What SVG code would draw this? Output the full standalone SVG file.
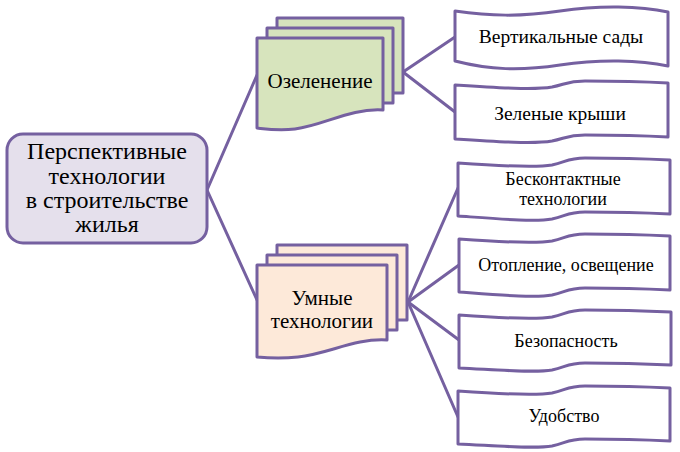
<svg xmlns="http://www.w3.org/2000/svg" width="680" height="452" viewBox="0 0 680 452">
<style>
.ln{fill:none;stroke:#7560A0;stroke-width:3;stroke-linecap:round}
.bx{stroke:#7560A0;stroke-width:3;stroke-linejoin:round}
.w{fill:#FFFFFF}
text{font-family:'Liberation Serif','Times New Roman',serif;fill:#000;text-anchor:middle}
.t24{font-size:24px}
.t21{font-size:21px}
.t19{font-size:19.5px}
.t18{font-size:18px}
</style>
<rect width="680" height="452" fill="#FFFFFF"/>
<g id="connectors">
<path class="ln" d="M207,190 L257,75"/>
<path class="ln" d="M207,190 L257,300"/>
<path class="ln" d="M403,72 L455,37"/>
<path class="ln" d="M403,72 L455,112"/>
<path class="ln" d="M408,302 L458,188"/>
<path class="ln" d="M408,302 L459,265"/>
<path class="ln" d="M408,302 L459,340"/>
<path class="ln" d="M408,302 L458,417"/>
</g>
<g id="root">
<rect class="bx" x="7" y="134" width="200" height="109" rx="16" fill="#E5E0EC"/>
<text class="t24" x="107" y="159">Перспективные</text>
<text class="t24" x="107" y="184">технологии</text>
<text class="t24" x="107" y="208">в строительстве</text>
<text class="t24" x="107" y="232">жилья</text>
</g>
<g id="ozelenenie">
<rect class="bx" x="277" y="18" width="126" height="75" fill="#D7E4BD"/>
<rect class="bx" x="267" y="28" width="126" height="75" fill="#D7E4BD"/>
<path class="bx" fill="#D7E4BD" d="M257,38 L383,38 L383,110 C350,108 325,125 295,129 C278,131 266,129 257,128 Z"/>
<text class="t21" x="320" y="88">Озеленение</text>
</g>
<g id="umnye">
<rect class="bx" x="277" y="245" width="130" height="75" fill="#FDE9D9"/>
<rect class="bx" x="267" y="255" width="130" height="75" fill="#FDE9D9"/>
<path class="bx" fill="#FDE9D9" d="M257,265 L387,265 L387,340 C355,338 328,354 298,357 C280,359 267,358 257,357 Z"/>
<text class="t21" x="322" y="305">Умные</text>
<text class="t21" x="322" y="328">технологии</text>
</g>
<g id="vert">
<path class="bx w" d="M455,11 C490,16 520,17 560,11 C600,5 640,6 668,12 L668,66 C640,60 600,59 560,65 C520,71 490,70 455,61 Z"/>
<text class="t19" x="561" y="43">Вертикальные сады</text>
</g>
<g id="kryshi">
<path class="bx w" d="M455,85 C500,88 535,90 552,87 C566,84 568,81 585,81 C620,81 650,82 668,83 L668,137 C650,136 620,135 585,135 C568,135 566,138 552,141 C535,144 500,142 455,139 Z"/>
<text class="t19" x="560" y="120">Зеленые крыши</text>
</g>
<g id="beskontakt">
<path class="bx w" d="M458,163 C500,166 535,168 552,165 C566,162 568,158 585,158 C620,158 650,159 670,160 L670,214 C650,213 620,212 585,212 C568,212 566,216 552,219 C535,222 500,219 458,216 Z"/>
<text class="t18" x="563" y="185">Бесконтактные</text>
<text class="t18" x="563" y="205">технологии</text>
</g>
<g id="otoplenie">
<path class="bx w" d="M459,239 C500,242 535,244 552,241 C566,238 568,234 585,234 C620,234 650,235 670,236 L670,290 C650,289 620,288 585,288 C568,288 566,292 552,295 C535,298 500,295 459,292 Z"/>
<text class="t18" x="566" y="271">Отопление, освещение</text>
</g>
<g id="bezopasnost">
<path class="bx w" d="M459,315 C500,318 535,320 552,317 C566,314 568,310 585,310 C620,310 650,311 671,312 L671,365 C650,364 620,363 585,363 C568,363 566,367 552,370 C535,373 500,370 459,368 Z"/>
<text class="t18" x="566" y="347">Безопасность</text>
</g>
<g id="udobstvo">
<path class="bx w" d="M458,391 C500,394 535,396 552,393 C566,390 568,386 585,386 C620,386 650,387 670,388 L670,441 C650,440 620,439 585,439 C568,439 566,443 552,446 C535,449 500,446 458,444 Z"/>
<text class="t18" x="564" y="422">Удобство</text>
</g>
</svg>
